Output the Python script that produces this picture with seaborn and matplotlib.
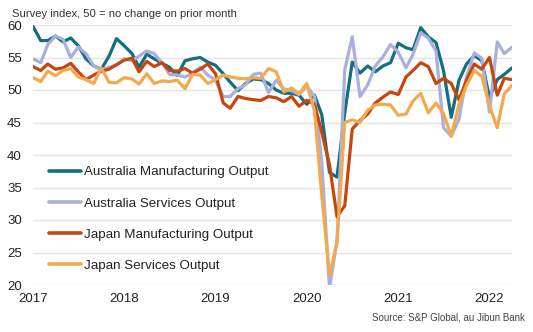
import numpy as np
import pandas as pd
import matplotlib
matplotlib.use("Agg")
import matplotlib.pyplot as plt
import seaborn as sns

# Monthly PMI output indices, Jan 2017 - Apr 2022
months = pd.date_range("2017-01-01", "2022-04-01", freq="MS")

aus_manufacturing = [
    59.8, 57.6, 57.6, 58.3, 57.4, 58.0, 56.8, 54.8, 53.7, 53.2, 55.2, 57.9,
    56.8, 55.6, 53.5, 55.5, 54.8, 54.1, 53.5, 52.2, 54.5, 54.8, 55.0, 54.3,
    53.8, 52.5, 51.2, 49.9, 51.0, 51.7, 51.6, 51.0, 50.0, 49.5, 49.5, 49.2,
    47.8, 49.2, 46.2, 37.3, 36.6, 46.5, 54.3, 52.6, 53.7, 52.8, 53.7, 54.2,
    57.2, 56.5, 56.2, 59.6, 58.2, 57.3, 53.0, 45.8, 51.5, 54.0, 55.3, 54.5,
    48.8, 51.6, 52.4, 53.4,
]
aus_services = [
    54.8, 54.2, 57.0, 58.3, 57.8, 55.0, 56.6, 55.6, 53.7, 53.1, 53.5, 53.8,
    54.8, 54.5, 55.2, 56.0, 55.6, 54.2, 52.4, 52.3, 52.0, 52.6, 53.5, 52.3,
    51.5, 49.0, 49.0, 50.2, 50.8, 52.4, 52.6, 49.6, 51.5, 50.2, 49.9, 49.3,
    50.6, 49.0, 39.0, 19.5, 26.9, 53.1, 58.2, 49.0, 50.8, 53.7, 55.1, 57.0,
    55.8, 53.4, 55.5, 58.8, 58.0, 56.0, 44.2, 42.9, 45.5, 52.0, 55.7, 54.9,
    46.6, 57.4, 55.6, 56.6,
]
jpn_manufacturing = [
    53.6, 53.0, 54.0, 53.2, 53.4, 54.1, 52.8, 51.6, 52.3, 52.9, 53.2, 53.9,
    54.6, 54.9, 52.8, 54.4, 53.6, 54.2, 53.0, 52.9, 53.3, 52.6, 53.2, 54.0,
    52.5, 48.0, 47.2, 49.0, 48.7, 48.5, 48.4, 49.0, 48.8, 48.2, 49.0, 47.5,
    48.4, 47.8, 43.5, 38.5, 30.5, 32.2, 44.0, 45.3, 46.3, 48.0, 48.9, 49.7,
    49.3, 52.0, 53.0, 54.2, 53.6, 51.0, 51.8, 51.0, 48.5, 51.5, 54.0, 53.2,
    55.0, 49.2, 51.8, 51.6,
]
jpn_services = [
    51.9, 51.3, 52.9, 52.2, 53.0, 53.3, 52.0, 51.6, 51.0, 53.4, 51.2, 51.1,
    51.9, 51.7, 50.9, 52.5, 51.0, 51.4, 51.3, 51.5, 50.2, 52.4, 52.3, 51.0,
    51.6, 52.3, 52.0, 51.8, 51.7, 51.9, 51.8, 53.3, 52.8, 49.7, 50.3, 49.4,
    51.0, 46.8, 33.8, 21.5, 26.5, 45.0, 45.4, 45.0, 46.9, 47.7, 47.8, 47.7,
    46.1, 46.3, 48.3, 49.5, 46.5, 48.0, 46.4, 42.9, 47.8, 50.7, 53.0, 52.1,
    47.6, 44.2, 49.4, 50.7,
]

series_names = [
    "Australia Manufacturing Output",
    "Australia Services Output",
    "Japan Manufacturing Output",
    "Japan Services Output",
]
series_values = [aus_manufacturing, aus_services, jpn_manufacturing, jpn_services]
colors = ["#12707c", "#a9b0dd", "#c5460e", "#f3a94f"]

year_ticks = [2017, 2018, 2019, 2020, 2021, 2022]
y_ticks = [20, 25, 30, 35, 40, 45, 50, 55, 60]

df = pd.concat(
    [pd.DataFrame({"month": months, "value": vals, "series": name})
     for name, vals in zip(series_names, series_values)],
    ignore_index=True,
)

sns.set_theme(style="white")
plt.rcParams["font.family"] = ["Liberation Sans", "DejaVu Sans"]

fig = plt.figure(figsize=(5.33, 3.32), dpi=100)
ax = fig.add_axes([33 / 533, 1 - 285 / 332, (512 - 33) / 533, (285 - 25) / 332])

for y in y_ticks:
    ax.axhline(y, color="#e4e4e4", lw=1.0, zorder=0)

sns.lineplot(
    data=df, x="month", y="value", hue="series", hue_order=series_names,
    palette=colors, linewidth=2.3, ax=ax, legend=False,
)

ax.set_xlim(months[0], months[-1])
ax.set_ylim(20, 60)
ax.set_yticks(y_ticks)
ax.set_yticklabels([str(v) for v in y_ticks], fontsize=9.5, color="#222222")
ax.set_xticks([pd.Timestamp(f"{y}-01-01") for y in year_ticks])
ax.set_xticklabels([str(y) for y in year_ticks], fontsize=9.5, color="#222222")
ax.tick_params(axis="both", length=0)
ax.tick_params(axis="y", pad=8)
ax.tick_params(axis="x", pad=6)
ax.set_xlabel("")
ax.set_ylabel("")
for s in ax.spines.values():
    s.set_visible(False)

handles = [plt.Line2D([], [], color=c, lw=2.6) for c in colors]
fig.legend(
    handles, series_names, loc="upper left",
    bbox_to_anchor=(49 / 533, 1 - 166 / 332), frameon=False,
    fontsize=9.6, handlelength=2.4, handletextpad=0.2, labelspacing=1.42,
    borderpad=0, borderaxespad=0, labelcolor="#222222",
)

fig.text(12 / 533, 1 - 17 / 332, "Survey index, 50 = no change on prior month",
         fontsize=8.1, color="#333333", ha="left", va="baseline")
fig.text(525 / 533, 1 - 321 / 332, "Source: S&P Global, au Jibun Bank",
         fontsize=7, color="#444444", ha="right", va="baseline")

fig.savefig("out.png", dpi=100)
